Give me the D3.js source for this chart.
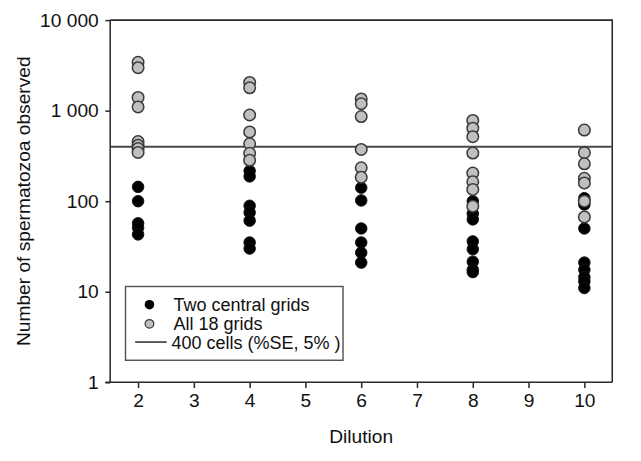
<!DOCTYPE html>
<html>
<head>
<meta charset="utf-8">
<script src="https://cdn.jsdelivr.net/npm/d3@7"></script>
<style>
  html, body { margin: 0; padding: 0; background: #fff; }
  svg { display: block; }
  text { font-family: "Liberation Sans", Arial, sans-serif; fill: #111; }
</style>
</head>
<body>
<svg id="chart" width="641" height="461"></svg>
<script>
// ---- data ----
const dilutions = [2, 4, 6, 8, 10];
const twoCentral = [
  [144, 100, 57, 51, 43],
  [216, 188, 89, 75, 61, 35, 30],
  [141, 102, 50, 35, 27, 21],
  [100, 73, 63, 36, 29.5, 21.5, 17.5, 16.5],
  [108, 92, 50, 21, 17.5, 14.5, 13, 11]
];
const all18 = [
  [3420, 2980, 1400, 1100, 456, 414, 382, 346],
  [2050, 1790, 896, 582, 431, 338, 283],
  [1346, 1192, 860, 373, 234, 184],
  [780, 640, 516, 340, 205, 164, 135, 88],
  [611, 344, 259, 179, 159, 100, 67]
];
const refLine = 400;
const xTicks = [2, 3, 4, 5, 6, 7, 8, 9, 10];
const yTicks = [1, 10, 100, 1000, 10000];
const yTickLabels = ["1", "10", "100", "1 000", "10 000"];
const legendLabels = ["Two central grids", "All 18 grids", "400 cells (%SE, 5% )"];
const xTitle = "Dilution";
const yTitle = "Number of spermatozoa observed";

// ---- layout (drawn on a 669x481 design grid, scaled to 641x461) ----
const K = 641 / 669;
const svg = d3.select("#chart").append("g").attr("transform", `scale(${K})`);
const L = 115, R = 639, T = 21, B = 399;
const x = d3.scaleLinear().domain([1.5, 10.5]).range([L, R]);
const y = d3.scaleLog().domain([1, 10000]).range([B, T]);
const axisColor = "#2a2a2a";

// frame (top & right)
svg.append("path")
  .attr("d", `M${L},${T}H${R}V${B}`)
  .attr("fill", "none").attr("stroke", axisColor).attr("stroke-width", 1.6);

// reference line
svg.append("line")
  .attr("x1", L).attr("x2", R)
  .attr("y1", y(refLine)).attr("y2", y(refLine))
  .attr("stroke", "#4a4a4a").attr("stroke-width", 2);

// points
const blackPts = [], grayPts = [];
dilutions.forEach((d, i) => {
  twoCentral[i].forEach(v => blackPts.push({d, v}));
  all18[i].forEach(v => grayPts.push({d, v}));
});
svg.append("g").selectAll("circle").data(blackPts).join("circle")
  .attr("cx", p => x(p.d)).attr("cy", p => y(p.v)).attr("r", 6)
  .attr("fill", "#000").attr("stroke", "#111").attr("stroke-width", 1);
svg.append("g").selectAll("circle").data(grayPts).join("circle")
  .attr("cx", p => x(p.d)).attr("cy", p => y(p.v)).attr("r", 6)
  .attr("fill", "#c0c0c0").attr("stroke", "#3a3a3a").attr("stroke-width", 1.6);

// axes
const xAxis = d3.axisBottom(x).tickValues(xTicks).tickSize(6).tickPadding(6).tickFormat(d3.format("d"));
const yAxis = d3.axisLeft(y).tickValues(yTicks).tickSize(5).tickPadding(7)
  .tickFormat((d, i) => yTickLabels[i]);

const gx = svg.append("g").attr("transform", `translate(0,${B})`).call(xAxis);
const gy = svg.append("g").attr("transform", `translate(${L},0)`).call(yAxis);
[gx, gy].forEach(g => {
  g.select(".domain").remove();
  g.selectAll("line").attr("stroke", axisColor).attr("stroke-width", 1.6);
  g.selectAll("text").attr("font-size", 20).attr("fill", "#111")
    .attr("font-family", "'Liberation Sans', Arial, sans-serif");
});
// axis lines
svg.append("line").attr("x1", L - 5).attr("x2", R).attr("y1", B).attr("y2", B)
  .attr("stroke", axisColor).attr("stroke-width", 1.6);
svg.append("line").attr("x1", L).attr("x2", L).attr("y1", T).attr("y2", B)
  .attr("stroke", axisColor).attr("stroke-width", 1.6);

// titles
svg.append("text").attr("x", (x(2) + x(10)) / 2).attr("y", 462)
  .attr("text-anchor", "middle").attr("font-size", 20).text(xTitle);
svg.append("text")
  .attr("transform", `translate(31,${(T + B) / 2}) rotate(-90)`)
  .attr("text-anchor", "middle").attr("font-size", 20).text(yTitle);

// legend
const lg = svg.append("g");
lg.append("rect").attr("x", 131).attr("y", 299).attr("width", 227).attr("height", 77)
  .attr("fill", "#fff").attr("stroke", "#555").attr("stroke-width", 1.5);
lg.append("circle").attr("cx", 156).attr("cy", 318).attr("r", 5).attr("fill", "#000");
lg.append("circle").attr("cx", 156).attr("cy", 338).attr("r", 4.5)
  .attr("fill", "#c0c0c0").attr("stroke", "#3a3a3a").attr("stroke-width", 1.3);
lg.append("line").attr("x1", 141).attr("x2", 174).attr("y1", 357).attr("y2", 357)
  .attr("stroke", "#4a4a4a").attr("stroke-width", 1.8);
[324.5, 344.5, 364].forEach((yy, i) => {
  lg.append("text").attr("x", i === 2 ? 179 : 181).attr("y", yy)
    .attr("font-size", 18.8).text(legendLabels[i]);
});
</script>
</body>
</html>
